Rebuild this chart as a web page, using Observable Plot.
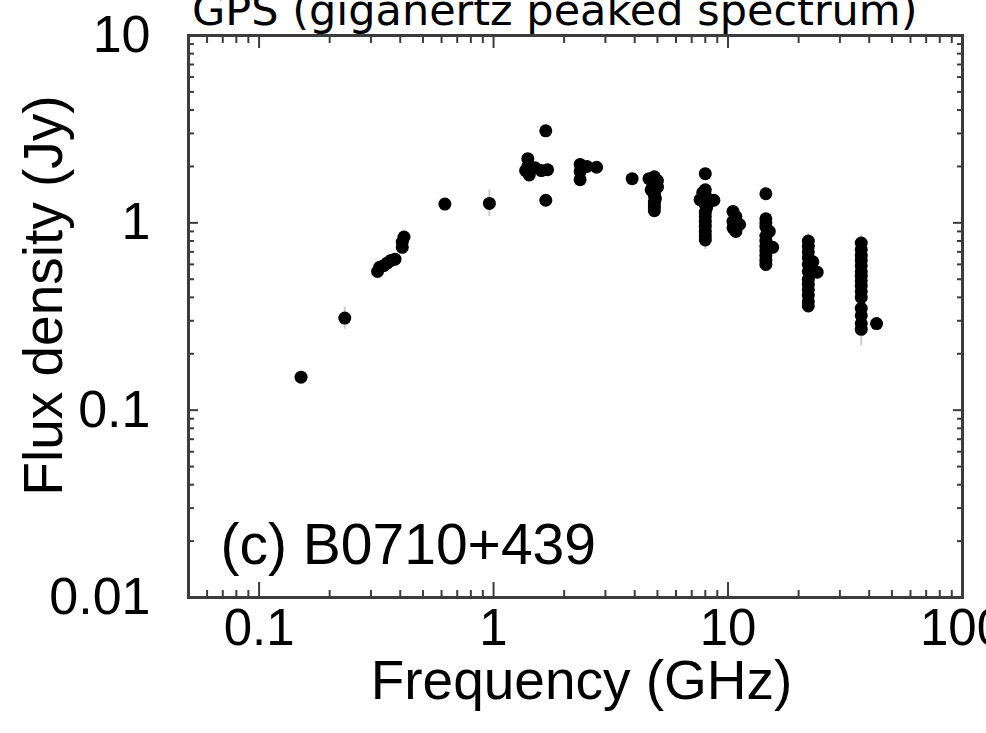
<!DOCTYPE html>
<html><head><meta charset="utf-8">
<script src="https://cdn.jsdelivr.net/npm/d3@7"></script>
<script src="https://cdn.jsdelivr.net/npm/@observablehq/plot@0.6"></script>
<style>
html,body{margin:0;padding:0;background:#fff;overflow:hidden}
#wrap{position:relative;width:986px;height:733px}
#title{position:absolute;left:192px;top:-11px;font-family:"DejaVu Sans",sans-serif;font-size:43px;line-height:43px;white-space:nowrap;color:#000;z-index:2}
</style></head><body>
<div id="wrap"><div id="title"></div></div>
<script>
const titleText = "GPS (giganertz peaked spectrum)";
const sourceLabel = "(c) B0710+439";
const xLabel = "Frequency (GHz)";
const yLabel = "Flux density (Jy)";

// frequency (GHz) and flux density (Jy) of each measurement
const freq = [0.151,0.232,0.32,0.327,0.34,0.352,0.365,0.38,0.408,0.408,0.415,0.62,0.96,
  1.37,1.4,1.4,1.42,1.45,1.5,1.6,1.7,1.67,1.67,
  2.34,2.34,2.34,2.5,2.75,3.9,
  4.6,4.85,5.0,4.85,5.0,4.7,4.85,4.85,4.9,4.85,4.85,4.85,4.85,
  8.0,8.0,7.8,8.0,7.6,8.7,8.4,8.0,8.1,8.0,8.0,8.0,8.0,8.0,8.0,8.0,
  10.5,10.8,10.5,11.2,10.5,10.8,
  14.5,14.5,14.5,14.5,15.0,14.5,14.5,15.5,14.5,14.5,14.5,14.5,14.5,
  22,22,22,22,23,22,24,22,22,22,22,22,22,22,
  37,37,37,37,37,37,37,37,37,37,37,37,37,37,37,43];
const flux = [0.15,0.31,0.55,0.58,0.59,0.61,0.63,0.64,0.74,0.79,0.84,1.26,1.27,
  1.9,2.2,2.0,1.8,1.95,1.97,1.9,1.92,3.1,1.32,
  2.05,1.88,1.70,2.0,1.98,1.72,
  1.72,1.76,1.68,1.62,1.55,1.5,1.45,1.4,1.35,1.3,1.25,1.2,1.16,
  1.83,1.5,1.45,1.4,1.33,1.32,1.3,1.25,1.2,1.14,1.08,1.02,0.96,0.9,0.85,0.81,
  1.15,1.08,1.02,0.98,0.94,0.9,
  1.43,1.05,1.0,0.95,0.9,0.85,0.8,0.74,0.75,0.71,0.67,0.63,0.6,
  0.8,0.75,0.7,0.65,0.62,0.6,0.545,0.55,0.5,0.47,0.44,0.41,0.38,0.36,
  0.78,0.72,0.67,0.63,0.59,0.55,0.52,0.49,0.46,0.43,0.4,0.35,0.32,0.29,0.27,0.29];

// error bars (faint grey)
const errFreq = [0.232,0.96,4.85,8.0,14.5,22,37];
const errLow  = [0.27,1.08,1.1,0.72,0.56,0.33,0.22];
const errHigh = [0.355,1.5,1.8,1.5,1.1,0.88,0.86];

const xTicks = [0.1,1,10,100];
const yTicks = [0.01,0.1,1,10];

document.getElementById("title").textContent = titleText;

const points = freq.map((f,i)=>({f, s: flux[i]}));
const errs = errFreq.map((f,i)=>({f, lo: errLow[i], hi: errHigh[i]}));
const minors = (lo, hi) => {
  const out = [];
  for (let e = Math.floor(Math.log10(lo)); e < Math.ceil(Math.log10(hi)); e++)
    for (let m = 2; m <= 9; m++) { const v = m * Math.pow(10, e); if (v > lo && v < hi) out.push(+v.toPrecision(3)); }
  return out;
};
const xDom = [0.05, 100], yDom = [0.01, 10];
const xMinor = minors(xDom[0], xDom[1]);
const yMinor = minors(yDom[0], yDom[1]);
const axC = "#3c3c3c";
const none = () => "";

const chart = Plot.plot({
  width: 986, height: 733,
  marginLeft: 188, marginRight: 24, marginTop: 35, marginBottom: 136,
  x: {type: "log", domain: xDom},
  y: {type: "log", domain: yDom},
  style: {fontFamily: "'Liberation Sans', Arial, sans-serif", background: "white", color: "black"},
  marks: [
    Plot.ruleX(errs, {x: "f", y1: "lo", y2: "hi", stroke: "#cccccc", strokeWidth: 2}),
    Plot.dot(points, {x: "f", y: "s", r: 6.5, fill: "black", stroke: "none"}),
    // ticks pointing inward
    Plot.axisX(xTicks, {anchor: "bottom", tickSize: -15, tickFormat: none, label: null, stroke: axC, strokeWidth: 2}),
    Plot.axisX(xMinor, {anchor: "bottom", tickSize: -7, tickFormat: none, label: null, stroke: axC, strokeWidth: 2}),
    Plot.axisX(xTicks, {anchor: "top", tickSize: -12, tickFormat: none, label: null, stroke: axC, strokeWidth: 2}),
    Plot.axisX(xMinor, {anchor: "top", tickSize: -7, tickFormat: none, label: null, stroke: axC, strokeWidth: 2}),
    Plot.axisY(yTicks, {anchor: "left", tickSize: -10, tickFormat: none, label: null, stroke: axC, strokeWidth: 2}),
    Plot.axisY(yMinor, {anchor: "left", tickSize: -6, tickFormat: none, label: null, stroke: axC, strokeWidth: 2}),
    Plot.axisY(yTicks, {anchor: "right", tickSize: -10, tickFormat: none, label: null, stroke: axC, strokeWidth: 2}),
    Plot.axisY(yMinor, {anchor: "right", tickSize: -6, tickFormat: none, label: null, stroke: axC, strokeWidth: 2}),
    // tick labels
    Plot.axisX(xTicks, {anchor: "bottom", tickSize: 0, tickPadding: 11, tickFormat: d => String(d), label: null, fontSize: 51}),
    Plot.axisY(yTicks, {anchor: "left", tickSize: 0, tickPadding: 38, tickFormat: d => String(d), label: null, fontSize: 52}),
    Plot.frame({stroke: axC, strokeWidth: 3}),
    Plot.text([sourceLabel], {frameAnchor: "bottom-left", dx: 32, dy: -34, textAnchor: "start", lineAnchor: "bottom", fontSize: 57, fill: "black"}),
    Plot.text([xLabel], {frameAnchor: "bottom", dx: 6, dy: 101, textAnchor: "middle", lineAnchor: "bottom", fontSize: 55, fill: "black"}),
    Plot.text([yLabel], {frameAnchor: "left", rotate: -90, dx: -144, dy: -21, textAnchor: "middle", lineAnchor: "middle", fontSize: 55, fill: "black"})
  ]
});
document.getElementById("wrap").appendChild(chart);
</script>
</body></html>
